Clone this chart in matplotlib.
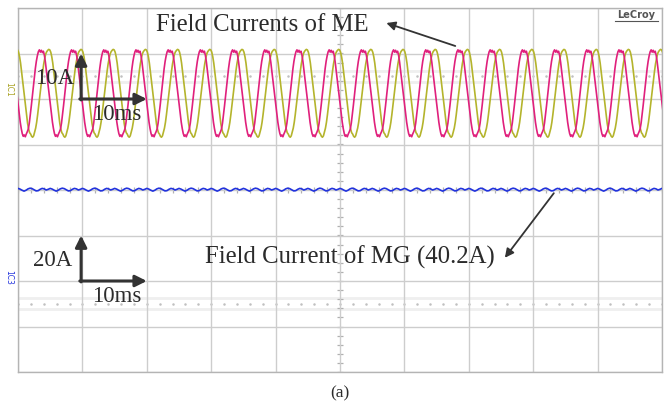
import numpy as np
import matplotlib
matplotlib.use("Agg")
import matplotlib.pyplot as plt
from matplotlib.lines import Line2D

# ---- scope settings ----
ms_per_div = 10.0
me_amp_per_div = 10.0
mg_amp_per_div = 20.0
n_div_x, n_div_y = 10, 8

# channel ground positions, in divisions from screen centre
me_offset_div = 2.12
mg_offset_div = -2.0

# ---- ME field currents (two phases, 200 Hz) ----
period_ms = 5.0
pink_first_crest_ms = 3.63
yellow_first_crest_ms = -0.07
# one recorded cycle of each phase, in A, starting at the crest
pink_cycle_A = [9.5, 9.0, 9.3, 8.4, 6.9, 5.1, 3.1, 1.2, -0.8, -2.7, -4.6, -6.3,
                -7.7, -8.8, -9.4, -9.1, -9.5, -8.9, -8.4, -7.8, -6.5, -4.7, -2.7, -0.6,
                1.6, 3.6, 5.5, 7.1, 8.3, 9.2, 9.6, 9.1]
yellow_cycle_A = [9.6, 9.1, 8.1, 6.7, 4.9, 2.9, 1.0, -1.0, -2.9, -4.9, -6.6, -7.8,
                  -8.6, -8.9, -9.4, -9.6, -9.3, -8.4, -7.6, -6.3, -4.6, -2.7, -0.8, 1.2,
                  3.1, 4.9, 6.5, 7.7, 8.7, 9.2, 9.5, 9.7]

# ---- MG field current ----
mg_current_A = 40.2
mg_ripple_A = [0.5, 0.2, -0.3, -0.7, -0.3, 0.3, 0.6, 0.4, -0.1, -0.6, -0.5, 0.1,
               0.5, 0.3, -0.2, 0.1]

grid_c = "#cdcdcd"
pink_c = "#e0207c"
yellow_c = "#b4b42c"
blue_c = "#2233dd"
ink = "#2b2b2b"
serif = ["Liberation Serif", "DejaVu Serif"]


def trace(cycle, first_ms):
    cycle = np.asarray(cycle, dtype=float)
    n = len(cycle)
    total_ms = n_div_x * ms_per_div
    k = np.arange(-2, int(total_ms / period_ms) + 2)
    t = first_ms + period_ms * (k[:, None] + np.arange(n)[None, :] / n)
    v = np.tile(cycle, len(k))
    return t.ravel(), v


fig = plt.figure(figsize=(6.70, 4.07), dpi=100)
ax = fig.add_axes([18 / 670, 1 - 372 / 407, 644 / 670, 364 / 407])
ax.set_xlim(0, n_div_x)
ax.set_ylim(-n_div_y / 2, n_div_y / 2)
ax.set_xticks(np.arange(0, n_div_x + 1))
ax.set_yticks(np.arange(-n_div_y // 2, n_div_y // 2 + 1))
ax.grid(True, color=grid_c, lw=1.0)
ax.tick_params(length=0, labelbottom=False, labelleft=False)
for s in ax.spines.values():
    s.set_color("#b4b4b4")
    s.set_linewidth(1.0)

# graticule: minor ticks on the centre lines and dotted reference rows
minor_y = np.arange(-4, 4.01, 0.2)
minor_x = np.arange(0, 10.01, 0.2)
ax.plot(np.full_like(minor_y, 5.0), minor_y, ls="none", marker="_", ms=4,
        mew=0.9, color="#b0b0b0", zorder=1)
ax.plot(minor_x, np.zeros_like(minor_x), ls="none", marker="|", ms=4,
        mew=0.9, color="#b0b0b0", zorder=1)
for yrow in (2.5, -2.5):
    ax.plot(minor_x, np.full_like(minor_x, yrow), ls="none", marker="o", ms=1.8,
            mew=0, color="#c0c0c0", zorder=1)
    for dy in (0.12, -0.12):
        ax.axhline(yrow + dy, color="#efefef", lw=2.0, zorder=0.5)

# waveforms
ty, vy = trace(yellow_cycle_A, yellow_first_crest_ms)
tp, vp = trace(pink_cycle_A, pink_first_crest_ms)
ax.plot(ty / ms_per_div, vy / me_amp_per_div + me_offset_div, color=yellow_c, lw=1.2, zorder=3)
ax.plot(tp / ms_per_div, vp / me_amp_per_div + me_offset_div, color=pink_c, lw=1.2, zorder=4)

tb, rb = trace(mg_ripple_A, 0.0)
ax.plot(tb / ms_per_div, (mg_current_A + rb) / mg_amp_per_div + mg_offset_div,
        color=blue_c, lw=1.2, zorder=3)

# channel markers
fig.text(9 / 670, 1 - 89 / 407, "1C1", rotation=270, fontsize=5.5, color="#a8a020",
         ha="center", va="center")
fig.text(9 / 670, 1 - 277 / 407, "1C3", rotation=270, fontsize=5.5, color=blue_c,
         ha="center", va="center")

# scale arrows
scale_arrow = dict(arrowstyle="-|>", lw=2.2, color="#333333", mutation_scale=17,
                   shrinkA=0, shrinkB=0)
for y0 in (2.0, -2.0):
    ax.annotate("", xy=(0.98, y0 + 1.0), xytext=(0.98, y0 - 0.02), arrowprops=scale_arrow, zorder=6)
    ax.annotate("", xy=(2.0, y0), xytext=(0.96, y0), arrowprops=scale_arrow, zorder=6)

fs_small = 16.5
ax.text(0.57, 2.46, "10A", fontsize=fs_small, family=serif, color=ink, ha="center", va="center", zorder=7)
ax.text(1.53, 1.65, "10ms", fontsize=fs_small, family=serif, color=ink, ha="center", va="center", zorder=7)
ax.text(0.54, -1.54, "20A", fontsize=fs_small, family=serif, color=ink, ha="center", va="center", zorder=7)
ax.text(1.53, -2.35, "10ms", fontsize=fs_small, family=serif, color=ink, ha="center", va="center", zorder=7)

# annotations
fs_big = 17.8
ax.text(3.8, 3.63, "Field Currents of ME", fontsize=fs_big, family=serif, color=ink,
        ha="center", va="center", zorder=7)
ax.annotate("", xy=(5.72, 3.67), xytext=(6.79, 3.165),
            arrowprops=dict(arrowstyle="-|>", lw=1.3, color="#333333", mutation_scale=13,
                            shrinkA=0, shrinkB=0), zorder=7)
ax.text(5.16, -1.47, "Field Current of MG (40.2A)", fontsize=fs_big, family=serif, color=ink,
        ha="center", va="center", zorder=7)
ax.annotate("", xy=(7.56, -1.49), xytext=(8.32, -0.07),
            arrowprops=dict(arrowstyle="-|>", lw=1.3, color="#333333", mutation_scale=13,
                            shrinkA=0, shrinkB=0), zorder=7)

# brand label
fig.text(636 / 670, 1 - 15 / 407, "LeCroy", fontsize=7, fontweight="bold", color="#555555",
         family="DejaVu Sans", ha="center", va="center")
fig.add_artist(Line2D([615 / 670, 658 / 670], [1 - 21 / 407, 1 - 21 / 407],
                      color="#555555", lw=0.8))

fig.text(340 / 670, 1 - 393 / 407, "(a)", fontsize=12.5, family=serif, color=ink,
         ha="center", va="center")

fig.savefig("out.png", dpi=100)
